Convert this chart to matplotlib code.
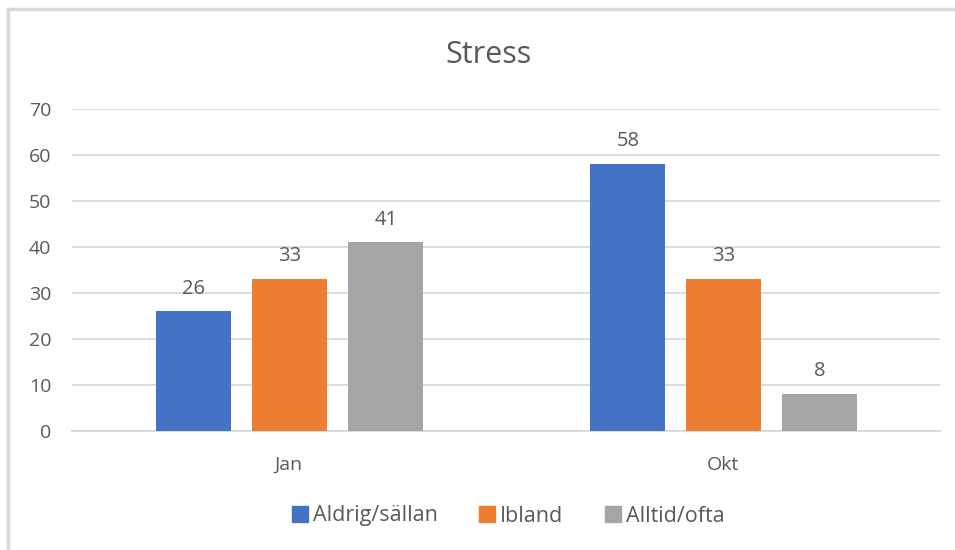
import matplotlib
matplotlib.use("Agg")
import matplotlib.pyplot as plt
import numpy as np
from matplotlib.lines import Line2D

categories = ["Jan", "Okt"]
series_names = ["Aldrig/sällan", "Ibland", "Alltid/ofta"]
values = {
    "Aldrig/sällan": [26, 58],
    "Ibland": [33, 33],
    "Alltid/ofta": [41, 8],
}
colors = ["#4472C4", "#ED7D31", "#A5A5A5"]
yticks = [0, 10, 20, 30, 40, 50, 60, 70]

plt.rcParams['font.family'] = ['Open Sans', 'DejaVu Sans']
txt = "#595959"

fig = plt.figure(figsize=(9.55, 5.5), dpi=100)
ax = fig.add_axes([72/955, 1 - 431/550, (940-72)/955, (431-109)/550])

x = np.arange(len(categories))
w = 0.173
step = 0.221
for i, name in enumerate(series_names):
    xs = x + (i - 1) * step + 0.002
    bars = ax.bar(xs, values[name], width=w, color=colors[i], zorder=3, label=name)
    for b, v in zip(bars, values[name]):
        ax.text(b.get_x() + b.get_width()/2, v + 2.8, f"{v}", ha="center", va="bottom",
                fontsize=14.5, color=txt)

ax.set_xlim(-0.5, 1.5)
ax.set_ylim(0, 70)
ax.set_yticks(yticks)
ax.set_xticks(x)
ax.set_xticklabels(categories)
ax.tick_params(axis="both", length=0, labelsize=14, labelcolor=txt)
ax.tick_params(axis="x", pad=18)
ax.tick_params(axis="y", pad=15)
ax.grid(axis="y", color="#D9D9D9", linewidth=1.3, zorder=0)
for s in ["top", "right", "left"]:
    ax.spines[s].set_visible(False)
ax.spines["bottom"].set_color("#D9D9D9")
ax.spines["bottom"].set_linewidth(1.3)

fig.text(489/955, 1 - 55/550, "Stress", ha="center", va="center", fontsize=22, color=txt)

handles = [Line2D([0], [0], marker="s", linestyle="none", markersize=11,
                  markerfacecolor=c, markeredgecolor=c) for c in colors]
fig.legend(handles, series_names, loc="center", bbox_to_anchor=(508/955, 1 - 516/550),
           ncol=3, frameon=False, fontsize=15.5, labelcolor=txt, handletextpad=0.2,
           columnspacing=1.9, handlelength=0.8)

# chart frame (top and left edges)
fig.add_artist(Line2D([8/955, 1], [1 - 9/550, 1 - 9/550], color="#D9D9D9", linewidth=2.5,
                      transform=fig.transFigure))
fig.add_artist(Line2D([8/955, 8/955], [0, 1 - 9/550], color="#D9D9D9", linewidth=2.5,
                      transform=fig.transFigure))

fig.savefig("out.png", dpi=100)
